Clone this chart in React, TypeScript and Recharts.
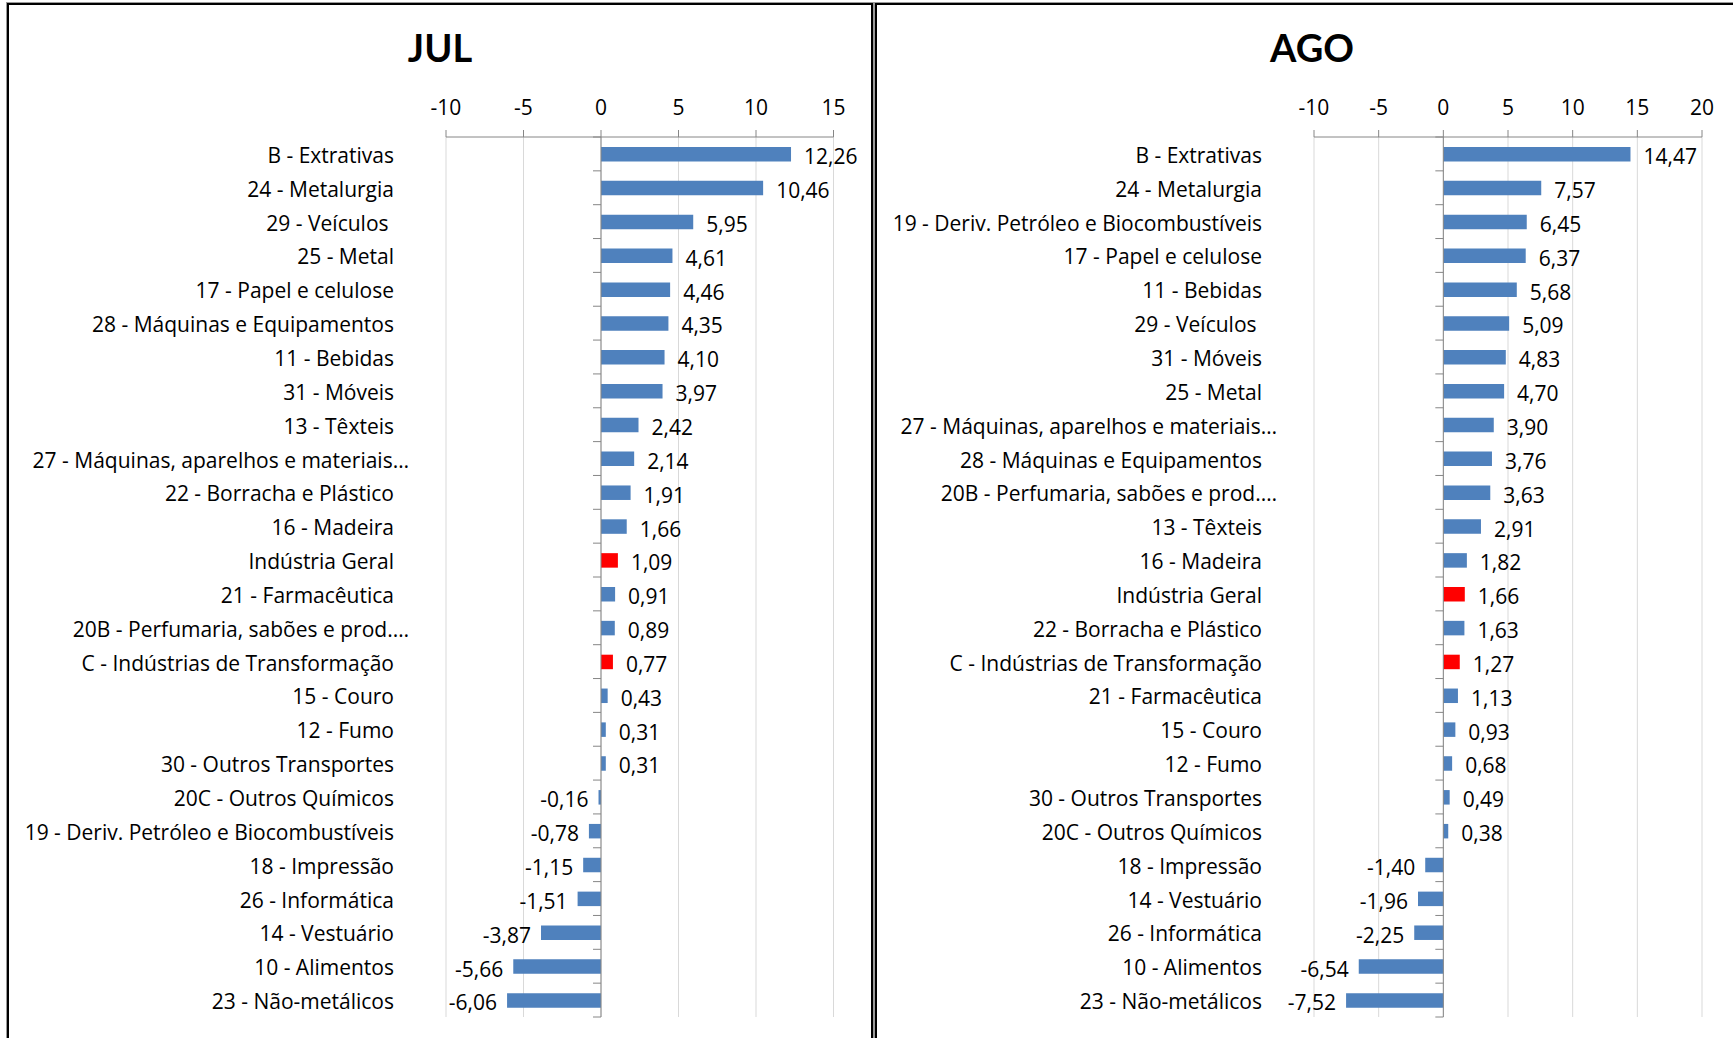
import React from "react"
import {
  Bar,
  BarChart,
  CartesianGrid,
  Cell,
  LabelList,
  ReferenceLine,
  XAxis,
  YAxis,
} from "recharts"

const JUL_LABELS = [
  "B - Extrativas",
  "24 - Metalurgia",
  "29 - Veículos ",
  "25 - Metal",
  "17 - Papel e celulose",
  "28 - Máquinas e Equipamentos",
  "11 - Bebidas",
  "31 - Móveis",
  "13 - Têxteis",
  "27 - Máquinas, aparelhos e materiais…",
  "22 - Borracha e Plástico",
  "16 - Madeira",
  "Indústria Geral",
  "21 - Farmacêutica",
  "20B - Perfumaria, sabões e prod.…",
  "C - Indústrias de Transformação",
  "15 - Couro",
  "12 - Fumo",
  "30 - Outros Transportes",
  "20C - Outros Químicos",
  "19 - Deriv. Petróleo e Biocombustíveis",
  "18 - Impressão",
  "26 - Informática",
  "14 - Vestuário",
  "10 - Alimentos",
  "23 - Não-metálicos",
]
const JUL_VALUES = [
  12.26, 10.46, 5.95, 4.61, 4.46, 4.35, 4.1, 3.97, 2.42, 2.14, 1.91, 1.66,
  1.09, 0.91, 0.89, 0.77, 0.43, 0.31, 0.31, -0.16, -0.78, -1.15, -1.51, -3.87,
  -5.66, -6.06,
]

const AGO_LABELS = [
  "B - Extrativas",
  "24 - Metalurgia",
  "19 - Deriv. Petróleo e Biocombustíveis",
  "17 - Papel e celulose",
  "11 - Bebidas",
  "29 - Veículos ",
  "31 - Móveis",
  "25 - Metal",
  "27 - Máquinas, aparelhos e materiais…",
  "28 - Máquinas e Equipamentos",
  "20B - Perfumaria, sabões e prod.…",
  "13 - Têxteis",
  "16 - Madeira",
  "Indústria Geral",
  "22 - Borracha e Plástico",
  "C - Indústrias de Transformação",
  "21 - Farmacêutica",
  "15 - Couro",
  "12 - Fumo",
  "30 - Outros Transportes",
  "20C - Outros Químicos",
  "18 - Impressão",
  "14 - Vestuário",
  "26 - Informática",
  "10 - Alimentos",
  "23 - Não-metálicos",
]
const AGO_VALUES = [
  14.47, 7.57, 6.45, 6.37, 5.68, 5.09, 4.83, 4.7, 3.9, 3.76, 3.63, 2.91, 1.82,
  1.66, 1.63, 1.27, 1.13, 0.93, 0.68, 0.49, 0.38, -1.4, -1.96, -2.25, -6.54,
  -7.52,
]

const HIGHLIGHTED = ["Indústria Geral", "C - Indústrias de Transformação"]

const JUL_TICKS = [-10, -5, 0, 5, 10, 15]
const AGO_TICKS = [-10, -5, 0, 5, 10, 15, 20]

const FONT = "'Open Sans', Lato, sans-serif"
const TITLE_FONT = "Lato, 'Open Sans', sans-serif"
const FONT_SIZE = 21
const BLUE = "#4f81bd"
const RED = "#ff0000"
const AXIS = "#868686"
const GRID = "#d9d9d9"

const CHART_H = 1033
const MARGIN_TOP = 102
const X_AXIS_H = 30
const MARGIN_BOTTOM = 21
const Y_AXIS_W = 437
const LABEL_GAP = 52

const fmt = (v: number) => v.toFixed(2).replace(".", ",")

interface PanelChartProps {
  labels: string[]
  values: number[]
  ticks: number[]
  width: number
  marginRight: number
}

function PanelChart({ labels, values, ticks, width, marginRight }: PanelChartProps) {
  const data = labels.map((name, i) => ({ name, value: values[i] }))
  const domain: [number, number] = [ticks[0], ticks[ticks.length - 1]]
  const plotW = width - Y_AXIS_W - marginRight
  const plotH = CHART_H - MARGIN_TOP - X_AXIS_H - MARGIN_BOTTOM
  const band = plotH / data.length
  const zeroOffset = ((0 - domain[0]) / (domain[1] - domain[0])) * plotW

  const renderCategory = (props: any) => {
    const { x, y, payload, index } = props
    const text = String(payload.value)
    const truncated = text.endsWith("…")
    const zx = Number(x) + zeroOffset
    return (
      <g>
        <text
          x={Number(x) - LABEL_GAP + (truncated ? 15 : 0)}
          y={Number(y) + 1}
          textAnchor="end"
          dominantBaseline="central"
          fontFamily={FONT}
          fontSize={FONT_SIZE}
          fill="#000"
          style={{ whiteSpace: "pre" }}
        >
          {text}
        </text>
        <line x1={zx - 8} x2={zx} y1={y - band / 2} y2={y - band / 2} stroke={AXIS} />
        {index === data.length - 1 && (
          <line x1={zx - 8} x2={zx} y1={y + band / 2} y2={y + band / 2} stroke={AXIS} />
        )}
      </g>
    )
  }

  const renderValue = (props: any) => {
    const x = Number(props.x)
    const y = Number(props.y)
    const w = Number(props.width)
    const h = Number(props.height)
    const v = Number(props.value)
    const left = Math.min(x, x + w)
    const right = Math.max(x, x + w)
    const cy = y + h / 2 + 2
    return (
      <text
        x={v >= 0 ? right + 13 : left - 10}
        y={cy}
        textAnchor={v >= 0 ? "start" : "end"}
        dominantBaseline="central"
        fontFamily={FONT}
        fontSize={FONT_SIZE}
        fill="#000"
      >
        {fmt(v)}
      </text>
    )
  }

  return (
    <BarChart
      width={width}
      height={CHART_H}
      data={data}
      layout="vertical"
      margin={{ top: MARGIN_TOP, right: marginRight, bottom: MARGIN_BOTTOM, left: 0 }}
    >
      <CartesianGrid horizontal={false} stroke={GRID} />
      <XAxis
        type="number"
        orientation="top"
        domain={domain}
        ticks={ticks}
        interval={0}
        allowDataOverflow
        height={X_AXIS_H}
        tickSize={7}
        tickMargin={15}
        axisLine={{ stroke: AXIS }}
        tickLine={{ stroke: AXIS }}
        tick={{ fill: "#000", fontSize: FONT_SIZE, fontFamily: FONT }}
      />
      <YAxis
        type="category"
        dataKey="name"
        width={Y_AXIS_W}
        interval={0}
        axisLine={false}
        tickLine={false}
        tickSize={0}
        tickMargin={0}
        tick={renderCategory}
      />
      <Bar dataKey="value" barSize={14.5} isAnimationActive={false}>
        {data.map((d) => (
          <Cell key={d.name} fill={HIGHLIGHTED.includes(d.name) ? RED : BLUE} />
        ))}
        <LabelList dataKey="value" content={renderValue} />
      </Bar>
      <ReferenceLine x={0} stroke={AXIS} />
    </BarChart>
  )
}

export default function App() {
  return (
    <div
      style={{
        position: "absolute",
        left: 0,
        top: 0,
        width: 1733,
        height: 1038,
        overflow: "hidden",
        background: "#fff",
      }}
    >
      <div
        style={{
          position: "absolute",
          left: 7,
          top: 3,
          width: 866,
          height: 1100,
          boxSizing: "border-box",
          border: "2px solid #000",
          boxShadow: "0 0 0 1px #9a9a9a",
        }}
      />
      <div
        style={{
          position: "absolute",
          left: 875,
          top: 3,
          width: 900,
          height: 1100,
          boxSizing: "border-box",
          border: "2px solid #000",
          boxShadow: "0 0 0 1px #9a9a9a",
        }}
      />
      <div style={{ position: "absolute", left: 9, top: 5 }}>
        <PanelChart
          labels={JUL_LABELS}
          values={JUL_VALUES}
          ticks={JUL_TICKS}
          width={862}
          marginRight={37.5}
        />
      </div>
      <div style={{ position: "absolute", left: 877, top: 5 }}>
        <PanelChart
          labels={AGO_LABELS}
          values={AGO_VALUES}
          ticks={AGO_TICKS}
          width={856}
          marginRight={31}
        />
      </div>
      <svg
        width={1733}
        height={80}
        style={{ position: "absolute", left: 0, top: 0, pointerEvents: "none" }}
      >
        <text x={440} y={62} textAnchor="middle" fontFamily={TITLE_FONT} fontWeight="bold" fontSize={38}>
          JUL
        </text>
        <text x={1312} y={62} textAnchor="middle" fontFamily={TITLE_FONT} fontWeight="bold" fontSize={38}>
          AGO
        </text>
      </svg>
    </div>
  )
}
